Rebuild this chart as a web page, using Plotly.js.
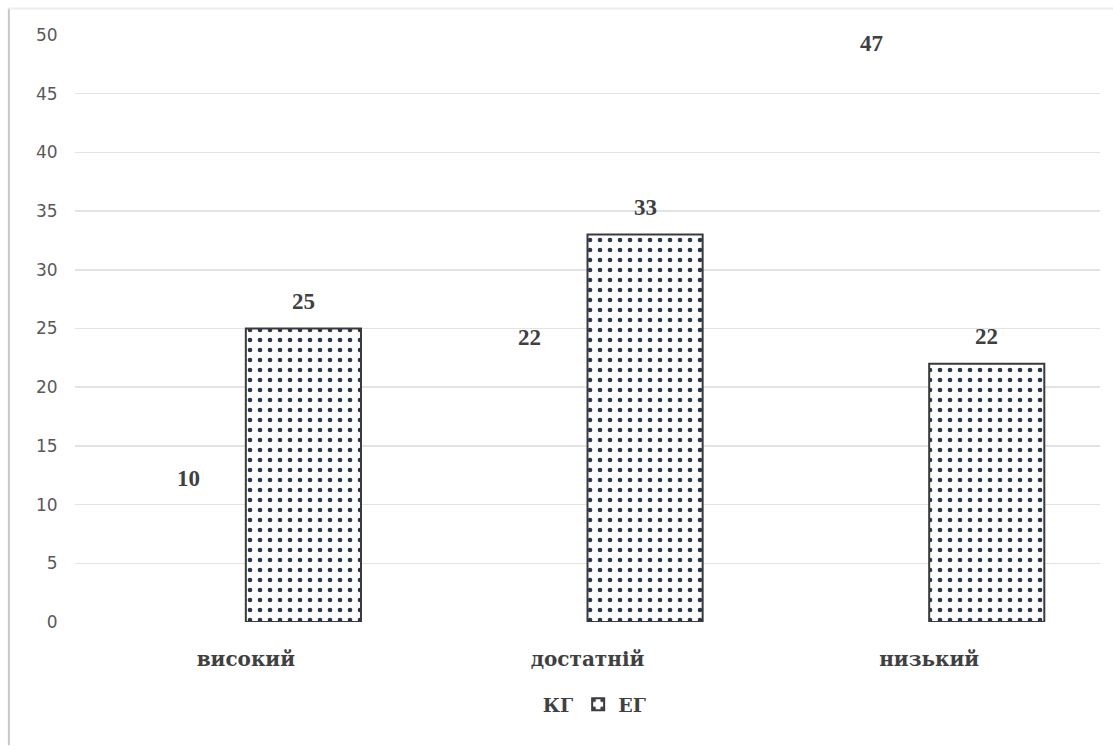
<!DOCTYPE html>
<html>
<head>
<meta charset="utf-8">
<script src="https://cdn.plot.ly/plotly-3.0.1.min.js"></script>
<style>
  html, body { margin: 0; padding: 0; background: #fff; }
  #chart { width: 1113px; height: 746px; }
</style>
</head>
<body>
<div id="chart"></div>
<script>
// Рівні сформованості: контрольна (КГ) та експериментальна (ЕГ) групи
const levels = ['високий', 'достатній', 'низький'];
const kgValues = [10, 22, 47];
const egValues = [25, 33, 22];
const seriesNames = ['КГ', 'ЕГ'];
const yTicks = [0, 5, 10, 15, 20, 25, 30, 35, 40, 45, 50];

const barWidth = 0.337;
const labelFont = { family: 'Liberation Serif, DejaVu Serif, serif', size: 23, color: '#404040' };

const kg = {
  type: 'bar',
  name: seriesNames[0],
  x: levels,
  y: kgValues,
  width: barWidth,
  offset: -barWidth,
  marker: { color: 'rgba(255,255,255,0)', line: { width: 0 } },
  hoverinfo: 'x+y'
};

const eg = {
  type: 'bar',
  name: seriesNames[1],
  x: levels,
  y: egValues,
  width: barWidth,
  offset: 0,
  marker: {
    color: '#ffffff',
    line: { color: '#3a3a3a', width: 2 },
    pattern: { shape: '.', fgcolor: '#2a3550', bgcolor: '#ffffff', size: 10, solidity: 0.17 }
  },
  hoverinfo: 'x+y'
};

// Підписи значень над стовпцями
const annotations = [];
levels.forEach((lv, i) => {
  annotations.push({
    x: i - barWidth / 2, y: kgValues[i], xref: 'x', yref: 'y',
    text: '<b>' + kgValues[i] + '</b>', showarrow: false,
    yanchor: 'bottom', yshift: 12, font: labelFont
  });
  annotations.push({
    x: i + barWidth / 2, y: egValues[i], xref: 'x', yref: 'y',
    text: '<b>' + egValues[i] + '</b>', showarrow: false,
    yanchor: 'bottom', yshift: 13, font: labelFont
  });
});

const layout = {
  width: 1113,
  height: 746,
  margin: { l: 75, r: 13, t: 35, b: 124 },
  paper_bgcolor: '#ffffff',
  plot_bgcolor: '#ffffff',
  barmode: 'group',
  showlegend: true,
  legend: {
    orientation: 'h',
    x: 0.49, xanchor: 'center',
    y: -0.108, yanchor: 'top',
    font: { family: 'DejaVu Serif, serif', size: 19, color: '#404040', weight: 'bold' },
    itemwidth: 30,
    traceorder: 'normal'
  },
  xaxis: {
    type: 'category',
    range: [-0.5, 2.5],
    showgrid: false,
    zeroline: false,
    showline: false,
    ticks: 'outside',
    ticklen: 19,
    tickcolor: 'rgba(0,0,0,0)',
    tickfont: { family: 'DejaVu Serif, serif', size: 20, color: '#404040', weight: 'bold' }
  },
  yaxis: {
    range: [0, 50],
    tickvals: yTicks,
    ticktext: yTicks.map(String),
    showgrid: true,
    gridcolor: '#e3e3e3',
    gridwidth: 1.5,
    zeroline: false,
    showline: false,
    ticks: 'outside',
    ticklen: 13,
    tickcolor: 'rgba(0,0,0,0)',
    tickfont: { family: 'DejaVu Sans, sans-serif', size: 17, color: '#595959' }
  },
  annotations: annotations,
  shapes: [
    // рамка області діаграми: ліва та верхня межі
    { type: 'line', xref: 'paper', yref: 'paper', x0: -0.0645, x1: -0.0645, y0: -0.21, y1: 1.045,
      line: { color: '#c8c8c8', width: 2 } },
    { type: 'line', xref: 'paper', yref: 'paper', x0: -0.0645, x1: 1.02, y0: 1.045, y1: 1.045,
      line: { color: '#ececec', width: 2 } }
  ]
};

Plotly.newPlot('chart', [kg, eg], layout, { displayModeBar: false, staticPlot: true });
</script>
</body>
</html>
